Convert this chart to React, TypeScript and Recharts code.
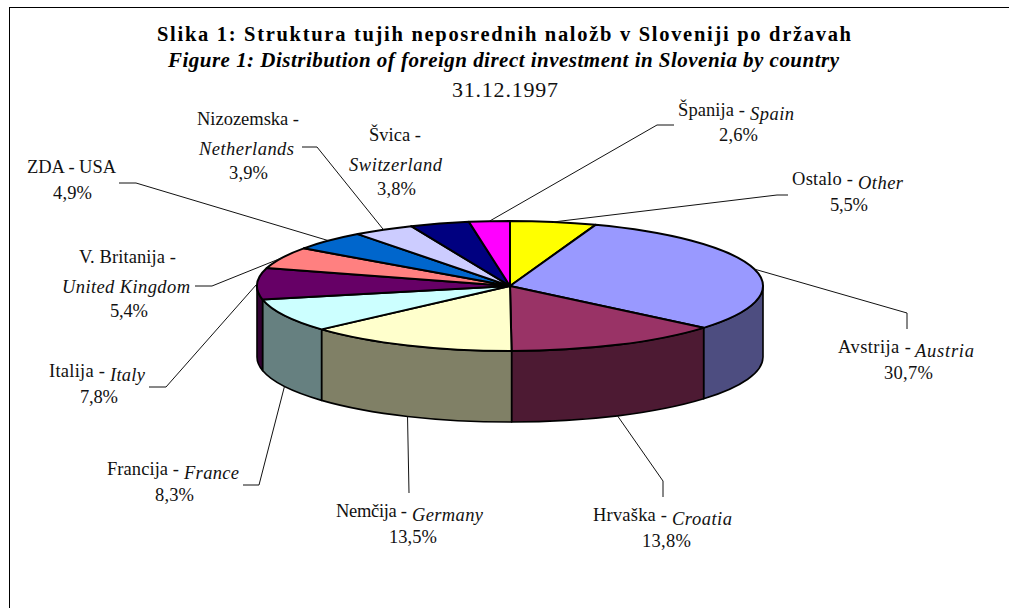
import React from "react";
import { PieChart, Pie } from "recharts";

const slovene = ["Ostalo -", "Avstrija -", "Hrvaška -", "Nemčija -", "Francija -", "Italija -", "V. Britanija -", "ZDA - USA", "Nizozemska -", "Švica -", "Španija -"];
const english = ["Other", "Austria", "Croatia", "Germany", "France", "Italy", "United Kingdom", "", "Netherlands", "Switzerland", "Spain"];
const shares = [5.5, 30.7, 13.8, 13.5, 8.3, 7.8, 5.4, 4.9, 3.9, 3.8, 2.6];
const topColors = ["#FFFF00", "#9999FF", "#993366", "#FFFFCC", "#CCFFFF", "#660066", "#FF8080", "#0066CC", "#CCCCFF", "#000080", "#FF00FF"];
const wallColors = ["#808000", "#4D4D80", "#4D1A33", "#808066", "#668080", "#330033", "#804040", "#003366", "#666680", "#000040", "#800080"];

const data = shares.map((value, i) => ({ name: slovene[i], value }));

const CX = 510;
const CY = 286;
const RX = 253;
const SQUASH = 65 / 253;
const DEPTH = 71;
const FONT = "'Liberation Serif', 'Times New Roman', serif";

const pt = (r: number, a: number, dy = 0) => {
  const t = (a * Math.PI) / 180;
  return { x: CX + r * Math.cos(t), y: CY - r * SQUASH * Math.sin(t) + dy };
};

function TopSlice(p: any) {
  const r = p.outerRadius;
  const s = pt(r, p.startAngle);
  const e = pt(r, p.endAngle);
  const large = Math.abs(p.startAngle - p.endAngle) > 180 ? 1 : 0;
  const d = `M${CX},${CY} L${s.x},${s.y} A${r},${r * SQUASH} 0 ${large} 1 ${e.x},${e.y} Z`;
  return <path d={d} fill={topColors[p.index]} stroke="#000" strokeWidth={2} strokeLinejoin="round" />;
}

function WallSlice(p: any) {
  const r = p.outerRadius;
  const hi = Math.min(p.startAngle, 0);
  const lo = Math.max(p.endAngle, -180);
  if (hi <= lo) return <g />;
  const a = pt(r, hi);
  const b = pt(r, lo);
  const c = pt(r, lo, DEPTH);
  const e = pt(r, hi, DEPTH);
  const ry = r * SQUASH;
  const d = `M${a.x},${a.y} A${r},${ry} 0 0 1 ${b.x},${b.y} L${c.x},${c.y} A${r},${ry} 0 0 0 ${e.x},${e.y} Z`;
  return <path d={d} fill={wallColors[p.index]} stroke="#000" strokeWidth={1.6} strokeLinejoin="round" />;
}

type Seg = [number, number, number];
type Layout = { name: Seg; en?: Seg; pct: Seg; elbow?: number[] };

const layouts: Layout[] = [
  { name: [792, 185, 61], en: [858, 189, 45], pct: [830, 211, 38], elbow: [788, 195, 777, 195] },
  { name: [838, 353, 73], en: [915, 357, 59], pct: [884, 379, 49], elbow: [907, 329, 907, 313] },
  { name: [593, 521, 74], en: [672, 525, 60], pct: [642, 547, 49], elbow: [663, 497, 663, 481] },
  { name: [336, 517, 71], en: [412, 521, 71], pct: [389, 543, 48], elbow: [409, 493] },
  { name: [107, 475, 72], en: [184, 479, 55], pct: [155, 501, 39], elbow: [243, 485, 259, 485] },
  { name: [49, 377, 56], en: [110, 381, 35], pct: [80, 403, 38], elbow: [149, 387, 166, 387] },
  { name: [79, 263, 97], en: [62, 293, 128], pct: [110, 317, 38], elbow: [195, 286, 212, 286] },
  { name: [27, 173, 89], pct: [53, 199, 39], elbow: [119, 183, 136, 183] },
  { name: [197, 125, 102], en: [199, 155, 95], pct: [229, 179, 39], elbow: [302, 147, 317, 147] },
  { name: [369, 141, 52], en: [349, 171, 93], pct: [377, 195, 39] },
  { name: [678, 116, 67], en: [750, 120, 44], pct: [719, 141, 39], elbow: [674, 125, 657, 125] },
];

function Seg({ seg, text, italic }: { seg: Seg; text: string; italic?: boolean }) {
  return (
    <text
      x={seg[0]}
      y={seg[1]}
      textLength={seg[2]}
      lengthAdjust="spacing"
      fontFamily={FONT}
      fontSize={18.5}
      fontStyle={italic ? "italic" : "normal"}
      fill="#111"
    >
      {text}
    </text>
  );
}

function SliceLabel(p: any) {
  const i = p.index;
  const l = layouts[i];
  const mid = (p.startAngle + p.endAngle) / 2;
  const front = Math.sin((mid * Math.PI) / 180) < 0;
  const anchor = pt(RX, mid, front ? DEPTH : 0);
  const pts = l.elbow ? [...l.elbow, anchor.x, anchor.y].join(",") : null;
  return (
    <g>
      {pts && <polyline points={pts} fill="none" stroke="#111" strokeWidth={1} />}
      <Seg seg={l.name} text={slovene[i]} />
      {l.en && english[i] && <Seg seg={l.en} text={english[i]} italic />}
      <Seg seg={l.pct} text={`${String(shares[i]).replace(".", ",")}%`} />
    </g>
  );
}

export default function App() {
  return (
    <div style={{ position: "absolute", left: 0, top: 0, width: 1009, height: 608 }}>
      <PieChart width={1009} height={608} margin={{ top: 0, right: 0, bottom: 0, left: 0 }}>
        <line x1={9} y1={7.5} x2={1009} y2={7.5} stroke="#000" strokeWidth={1} />
        <line x1={9.5} y1={7} x2={9.5} y2={608} stroke="#000" strokeWidth={1} />
        <text x={157} y={41} textLength={694} lengthAdjust="spacing" fontFamily={FONT} fontSize={20.5} fontWeight="bold" fill="#000">
          Slika 1: Struktura tujih neposrednih naložb v Sloveniji po državah
        </text>
        <text x={168} y={67} textLength={671} lengthAdjust="spacing" fontFamily={FONT} fontSize={21} fontWeight="bold" fontStyle="italic" fill="#000">
          Figure 1: Distribution of foreign direct investment in Slovenia by country
        </text>
        <text x={452} y={97} textLength={106} lengthAdjust="spacing" fontFamily={FONT} fontSize={22} fill="#111">
          31.12.1997
        </text>
        <Pie
          data={data}
          dataKey="value"
          cx={CX}
          cy={CY}
          outerRadius={RX}
          startAngle={90}
          endAngle={-270}
          isAnimationActive={false}
          shape={WallSlice}
          label={false}
          labelLine={false}
        />
        <Pie
          data={data}
          dataKey="value"
          cx={CX}
          cy={CY}
          outerRadius={RX}
          startAngle={90}
          endAngle={-270}
          isAnimationActive={false}
          shape={TopSlice}
          label={SliceLabel}
          labelLine={false}
        />
      </PieChart>
    </div>
  );
}
